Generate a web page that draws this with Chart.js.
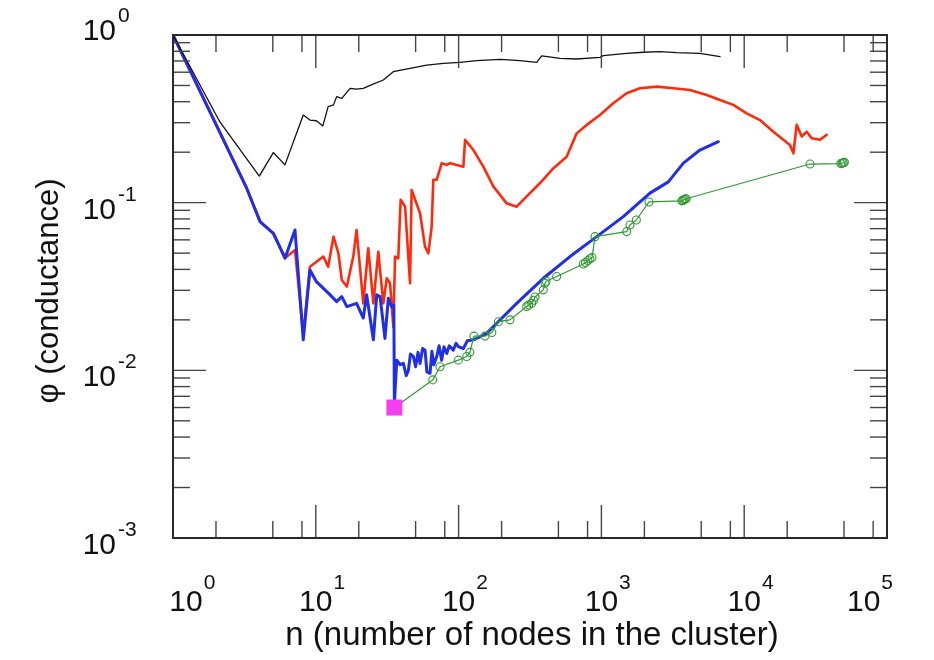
<!DOCTYPE html>
<html>
<head>
<meta charset="utf-8">
<script src="https://cdn.jsdelivr.net/npm/chart.js@4.4.1/dist/chart.umd.min.js"></script>
<style>
  html, body { margin: 0; padding: 0; background: #ffffff; }
  #wrap { width: 934px; height: 660px; }
</style>
</head>
<body>
<div id="wrap"><canvas id="c" width="934" height="660"></canvas></div>
<script>
// ---------------- data ----------------
const blackN = [1, 2.13, 4.02, 5.04, 6.08, 8.17, 9.1, 10.1, 11.2, 12.2, 13.3, 14.0, 15.2, 17.4, 19.3, 21.5, 24.0, 29.7, 34.9, 45.7, 59.8, 78.2, 102, 134, 195, 269, 352, 382, 513, 671, 977, 1030, 1503, 1965, 2572, 3366, 4898, 6770];
const blackPhi = [1, 0.303, 0.144, 0.199, 0.168, 0.333, 0.311, 0.308, 0.287, 0.374, 0.383, 0.429, 0.419, 0.481, 0.475, 0.481, 0.50, 0.539, 0.604, 0.633, 0.662, 0.678, 0.687, 0.703, 0.716, 0.703, 0.687, 0.750, 0.726, 0.719, 0.736, 0.753, 0.778, 0.789, 0.795, 0.784, 0.778, 0.743];

const redN = [1, 3.28, 4.07, 5.04, 6.09, 7.15, 8.17, 9.1, 11.3, 12.2, 13.3, 14.4, 15.2, 16.5, 18.3, 19.3, 21.5, 23.3, 25.3, 27.4, 29.7, 31.4, 33.1, 34.9, 35.9, 37.8, 39.3, 42.2, 45.7, 46.9, 53.7, 58.2, 61.4, 64.8, 66.5, 70.3, 76.2, 82.6, 87.1, 108, 111, 127, 149, 175, 217, 255, 300, 372, 460, 571, 671, 789, 977, 1211, 1503, 1862, 2440, 3190, 4170, 5460, 6770, 8390, 10400, 12900, 16000, 18800, 20900, 22100, 23300, 25300, 27400, 29700, 34000, 37800];
const redPhi = [1, 0.122, 0.0771, 0.0657, 0.0467, 0.0522, 0.0165, 0.0415, 0.0477, 0.0415, 0.0627, 0.0499, 0.0346, 0.0316, 0.0477, 0.0687, 0.0251, 0.0535, 0.0251, 0.0510, 0.0251, 0.0354, 0.0331, 0.0182, 0.0477, 0.0466, 0.104, 0.0946, 0.0331, 0.119, 0.0865, 0.0547, 0.0499, 0.0719, 0.137, 0.137, 0.172, 0.168, 0.172, 0.164, 0.237, 0.206, 0.164, 0.125, 0.0991, 0.0946, 0.109, 0.131, 0.160, 0.188, 0.259, 0.291, 0.333, 0.392, 0.449, 0.481, 0.492, 0.481, 0.470, 0.439, 0.410, 0.383, 0.341, 0.311, 0.265, 0.237, 0.221, 0.197, 0.291, 0.248, 0.265, 0.242, 0.237, 0.254];

const blueN = [1, 3.28, 4.07, 5.04, 6.09, 7.15, 8.17, 9.1, 10.1, 12.6, 14.0, 15.2, 16.5, 19.3, 21.5, 22.7, 25.3, 26.7, 28.2, 30.5, 32.2, 34.0, 35.2, 35.5, 36.9, 39, 41, 43, 44.5, 46, 48.2, 50, 52, 53.7, 56, 58.2, 60, 63.1, 65, 67, 70.3, 73, 76, 79, 82.6, 86, 91.8, 96, 100, 108, 115, 127, 140, 157, 185, 255, 392, 603, 927, 1423, 2188, 2942, 3750, 4898, 6590];
const bluePhi = [1, 0.122, 0.0771, 0.0657, 0.0467, 0.0687, 0.0152, 0.0397, 0.0338, 0.0282, 0.0257, 0.0275, 0.0240, 0.0251, 0.0205, 0.0282, 0.0152, 0.0282, 0.0275, 0.0155, 0.0269, 0.0240, 0.0245, 0.0063, 0.0115, 0.0108, 0.0110, 0.0093, 0.0100, 0.0125, 0.0121, 0.0105, 0.0128, 0.0110, 0.0135, 0.0132, 0.0098, 0.0096, 0.0130, 0.0108, 0.0121, 0.0140, 0.0115, 0.0138, 0.0126, 0.0140, 0.0132, 0.0145, 0.0138, 0.0135, 0.0150, 0.0152, 0.0158, 0.0166, 0.0191, 0.0251, 0.0354, 0.0477, 0.0627, 0.0825, 0.114, 0.133, 0.172, 0.206, 0.231];

const greenN = [35.5, 65.9, 74.1, 99.6, 114, 120, 128, 153, 171, 190, 229, 300, 310, 325, 335, 343, 392, 403, 410, 486, 747, 775, 805, 832, 860, 902, 1503, 1585, 1757, 2154, 3650, 3720, 3785, 3850, 3920, 28900, 47500, 48500, 49400, 50300];
const greenPhi = [0.0060, 0.00877, 0.0105, 0.0115, 0.0121, 0.0128, 0.0160, 0.0160, 0.0168, 0.0195, 0.0200, 0.0240, 0.0245, 0.0251, 0.0262, 0.0274, 0.0302, 0.0331, 0.0340, 0.0363, 0.0431, 0.0440, 0.0452, 0.0463, 0.0470, 0.0627, 0.0672, 0.0736, 0.0788, 0.101, 0.1025, 0.103, 0.104, 0.105, 0.1055, 0.170, 0.171, 0.172, 0.173, 0.174];

const seedN = [35.5];
const seedPhi = [0.0060];

// tick definitions
const xTickValues = [1, 10, 100, 1000, 10000, 100000];
const xTickExps = ['0', '1', '2', '3', '4', '5'];
const xMinorMult = [2, 5, 8];
const yTickValues = [1, 0.1, 0.01, 0.001];
const yTickExps = ['0', '-1', '-2', '-3'];
const yMinorMult = [2, 3, 4, 5, 6, 7, 8, 9];

const xTitle = 'n (number of nodes in the cluster)';
const yTitle = 'φ (conductance)';

// ---------------- chart ----------------
const toPts = (xs, ys) => xs.map((v, i) => ({ x: v, y: ys[i] }));
const FONT = '"Liberation Sans", Arimo, Helvetica, Arial, sans-serif';

const decorPlugin = {
  id: 'decor',
  afterDatasetsDraw(chart) {
    const ctx = chart.ctx;
    const xs = chart.scales.x, ys = chart.scales.y;
    const a = chart.chartArea;
    const MAJ = 33, MIN = 17;
    ctx.save();
    ctx.strokeStyle = '#444444';
    ctx.lineWidth = 1.4;
    const seg = (x1, y1, x2, y2) => { ctx.beginPath(); ctx.moveTo(x1, y1); ctx.lineTo(x2, y2); ctx.stroke(); };
    // x ticks (bottom & top, inward)
    xTickValues.forEach((v, i) => {
      const px = xs.getPixelForValue(v);
      seg(px, a.bottom, px, a.bottom - MAJ);
      seg(px, a.top, px, a.top + MAJ);
      if (i < xTickValues.length - 1) {
        xMinorMult.forEach(m => {
          const q = xs.getPixelForValue(v * m);
          seg(q, a.bottom, q, a.bottom - MIN);
          seg(q, a.top, q, a.top + MIN);
        });
      }
    });
    // y ticks (left & right, inward)
    yTickValues.forEach((v, i) => {
      const py = ys.getPixelForValue(v);
      seg(a.left, py, a.left + MAJ, py);
      seg(a.right, py, a.right - MAJ, py);
      if (i < yTickValues.length - 1) {
        yMinorMult.forEach(m => {
          const q = ys.getPixelForValue(v * m / 10);
          seg(a.left, q, a.left + MIN, q);
          seg(a.right, q, a.right - MIN, q);
        });
      }
    });
    // frame
    ctx.strokeStyle = '#2a2a2a';
    ctx.lineWidth = 2;
    ctx.strokeRect(a.left, a.top, a.right - a.left, a.bottom - a.top);

    // tick labels: "10" with superscript exponent
    const baseFont = '30px ' + FONT;
    const expFont = '21px ' + FONT;
    ctx.fillStyle = '#111111';
    ctx.textBaseline = 'alphabetic';
    // x labels
    xTickValues.forEach((v, i) => {
      const px = xs.getPixelForValue(v);
      ctx.font = baseFont;
      const bw = ctx.measureText('10').width;
      ctx.font = expFont;
      const ew = ctx.measureText(xTickExps[i]).width;
      let cx = px;
      if (i === 0) cx = px + 13;
      let left = cx - bw / 2;
      if (i === xTickValues.length - 1) left = 893 - ew - 1 - bw;
      ctx.font = baseFont;
      ctx.textAlign = 'left';
      ctx.fillText('10', left, 611);
      ctx.font = expFont;
      ctx.fillText(xTickExps[i], left + bw + 1, 589);
    });
    // y labels
    yTickValues.forEach((v, i) => {
      const py = ys.getPixelForValue(v);
      let base = py + 16;
      if (i === 0) base = 40;
      ctx.font = baseFont;
      ctx.textAlign = 'right';
      ctx.fillText('10', 116, base);
      ctx.font = expFont;
      ctx.textAlign = 'left';
      ctx.fillText(yTickExps[i], 118, base - 18);
    });

    // axis titles
    ctx.fillStyle = '#111111';
    ctx.font = '33px ' + FONT;
    ctx.textAlign = 'center';
    ctx.fillText(xTitle, 532, 645);
    ctx.save();
    ctx.translate(58, 291);
    ctx.rotate(-Math.PI / 2);
    ctx.font = '31px ' + FONT;
    ctx.fillText(yTitle, 0, 0);
    ctx.restore();
    ctx.restore();
  }
};

new Chart(document.getElementById('c'), {
  type: 'line',
  data: {
    datasets: [
      {
        label: 'seed',
        data: toPts(seedN, seedPhi),
        showLine: false,
        pointStyle: 'rect',
        pointRadius: 11.3,
        pointBackgroundColor: '#f43ef0',
        pointBorderWidth: 0,
        borderWidth: 0
      },
      {
        label: 'black',
        data: toPts(blackN, blackPhi),
        borderColor: '#111111',
        borderWidth: 1.3,
        pointRadius: 0
      },
      {
        label: 'green',
        data: toPts(greenN, greenPhi),
        borderColor: '#2f9a2f',
        borderWidth: 1.2,
        pointRadius: 4,
        pointStyle: 'circle',
        pointBackgroundColor: 'rgba(0,0,0,0)',
        pointBorderColor: '#2f9a2f',
        pointBorderWidth: 1.1
      },
      {
        label: 'blue',
        data: toPts(blueN, bluePhi),
        borderColor: '#1f2ee8',
        borderWidth: 3,
        pointRadius: 0
      },
      {
        label: 'red',
        data: toPts(redN, redPhi),
        borderColor: '#ff2a0c',
        borderWidth: 2.6,
        pointRadius: 0
      }
    ]
  },
  options: {
    responsive: false,
    animation: false,
    devicePixelRatio: 1,
    layout: { padding: { left: 173, right: 47, top: 35, bottom: 122 } },
    plugins: { legend: { display: false }, tooltip: { enabled: false } },
    elements: { line: { tension: 0, borderJoinStyle: 'round', borderCapStyle: 'round' } },
    scales: {
      x: { type: 'logarithmic', min: 1, max: 100000, display: false },
      y: { type: 'logarithmic', min: 0.001, max: 1, display: false }
    }
  },
  plugins: [decorPlugin]
});
</script>
</body>
</html>
